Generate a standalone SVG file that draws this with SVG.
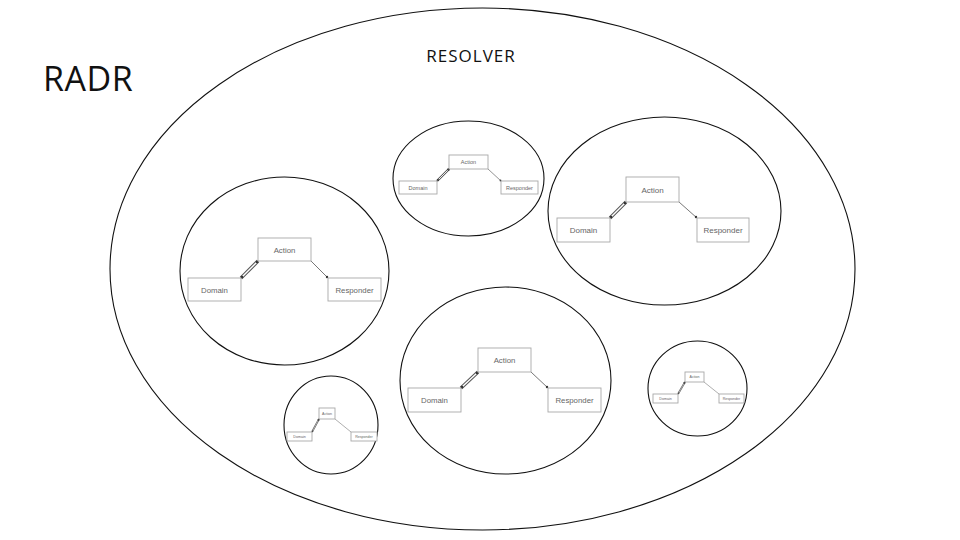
<svg xmlns="http://www.w3.org/2000/svg" width="960" height="540" viewBox="0 0 960 540">
<style>
.ring{fill:none;stroke:#111;stroke-width:1.1}
.box{fill:#fff;stroke:#a8a8a8;stroke-width:0.9}
.lbl{font-family:"Liberation Sans",Arial,sans-serif;fill:#666;text-anchor:middle}
.dbl{stroke:#555;fill:none;stroke-linecap:butt}
.dblin{stroke:#fff;fill:none}
.sgl{stroke:#777;fill:none}
.dot{fill:#333}
.title{font-family:"Open Sans","Noto Sans",sans-serif;fill:#111}
</style>
<rect width="960" height="540" fill="#fff"/>
<text class="title" x="43" y="91" font-size="34" letter-spacing="0.5">RADR</text>
<g id="resolver">
<ellipse class="ring" cx="482.5" cy="269" rx="372.5" ry="261"/>
<text class="title" x="471" y="62" font-size="17" text-anchor="middle" letter-spacing="1">RESOLVER</text>
</g>
<g id="connectors">
<path class="dbl" stroke-width="3.4" d="M241,278L258,261"/><path class="dblin" stroke-width="1.4" d="M242,277L257,262"/>
<path class="sgl" stroke-width="1" d="M311,261L328,278"/>
<circle class="dot" cx="242" cy="277" r="1.3"/><circle class="dot" cx="257" cy="262" r="1.3"/><circle class="dot" cx="327" cy="277" r="1.2"/>
<path class="dbl" stroke-width="3.4" d="M461,388L478,372"/><path class="dblin" stroke-width="1.4" d="M462,387L477,373"/>
<path class="sgl" stroke-width="1" d="M531,372L548,388"/>
<circle class="dot" cx="462" cy="387" r="1.3"/><circle class="dot" cx="477" cy="373" r="1.3"/><circle class="dot" cx="547" cy="387" r="1.2"/>
<path class="dbl" stroke-width="3.4" d="M610,218L626,202"/><path class="dblin" stroke-width="1.4" d="M611,217L625,203"/>
<path class="sgl" stroke-width="1" d="M679,202L697,218"/>
<circle class="dot" cx="611" cy="217" r="1.3"/><circle class="dot" cx="625" cy="203" r="1.3"/><circle class="dot" cx="696" cy="217" r="1.2"/>
<path class="dbl" stroke-width="2.4" d="M437,181L449,169"/><path class="dblin" stroke-width="0.9" d="M437.7,180.3L448.3,169.7"/>
<path class="sgl" stroke-width="0.8" d="M488,169L501,181"/>
<circle class="dot" cx="438" cy="180" r="1"/><circle class="dot" cx="448.5" cy="169.5" r="1.2"/><circle class="dot" cx="500.5" cy="180.5" r="0.9"/>
<path class="dbl" stroke-width="1.6" d="M678,394L685,382"/><path class="dblin" stroke-width="0.5" d="M678.5,393.2L684.5,382.8"/>
<path class="sgl" stroke-width="0.6" d="M704,382L719,394"/>
<circle class="dot" cx="684.5" cy="382.8" r="1"/><circle class="dot" cx="678.5" cy="393.3" r="0.7"/>
<path class="dbl" stroke-width="1.6" d="M312,432L319,419"/><path class="dblin" stroke-width="0.5" d="M312.5,431.2L318.5,419.8"/>
<path class="sgl" stroke-width="0.6" d="M335,419L351,432"/>
<circle class="dot" cx="318.6" cy="419.8" r="1"/><circle class="dot" cx="312.5" cy="431.2" r="0.7"/>
</g>
<g id="c1">
<ellipse class="ring" cx="284.5" cy="271" rx="104.5" ry="94"/>
<g id="c1-action"><rect class="box" x="258" y="238" width="53" height="23"/><text class="lbl" x="284.5" y="252.5" font-size="7.8">Action</text></g>
<g id="c1-domain"><rect class="box" x="188" y="278" width="53" height="23"/><text class="lbl" x="214.5" y="292.5" font-size="7.8">Domain</text></g>
<g id="c1-responder"><rect class="box" x="328" y="278" width="53" height="23"/><text class="lbl" x="354.5" y="292.5" font-size="7.8">Responder</text></g>
</g>
<g id="c2">
<ellipse class="ring" cx="468.5" cy="178.5" rx="75.5" ry="57.5"/>
<g id="c2-action"><rect class="box" x="449" y="155" width="39" height="14"/><text class="lbl" x="468.5" y="164" font-size="5.5">Action</text></g>
<g id="c2-domain"><rect class="box" x="399" y="181" width="38" height="13"/><text class="lbl" x="418" y="189.6" font-size="5.5">Domain</text></g>
<g id="c2-responder"><rect class="box" x="501" y="181" width="37" height="13"/><text class="lbl" x="519.5" y="189.6" font-size="5.5">Responder</text></g>
</g>
<g id="c3">
<ellipse class="ring" cx="664.5" cy="211" rx="116.5" ry="94"/>
<g id="c3-action"><rect class="box" x="626" y="177" width="53" height="25"/><text class="lbl" x="652.5" y="192.5" font-size="8">Action</text></g>
<g id="c3-domain"><rect class="box" x="557" y="218" width="53" height="24"/><text class="lbl" x="583.5" y="233" font-size="8">Domain</text></g>
<g id="c3-responder"><rect class="box" x="697" y="218" width="52" height="24"/><text class="lbl" x="723" y="233" font-size="8">Responder</text></g>
</g>
<g id="c4">
<ellipse class="ring" cx="505.5" cy="380.5" rx="105.5" ry="93.5"/>
<g id="c4-action"><rect class="box" x="478" y="348" width="53" height="24"/><text class="lbl" x="504.5" y="362.8" font-size="7.8">Action</text></g>
<g id="c4-domain"><rect class="box" x="408" y="388" width="53" height="24"/><text class="lbl" x="434.5" y="402.8" font-size="7.8">Domain</text></g>
<g id="c4-responder"><rect class="box" x="548" y="388" width="53" height="24"/><text class="lbl" x="574.5" y="402.8" font-size="7.8">Responder</text></g>
</g>
<g id="c5">
<ellipse class="ring" cx="697.5" cy="388.5" rx="49.5" ry="47.5"/>
<g id="c5-action"><rect class="box" x="685" y="372" width="19" height="10" stroke-width="0.6"/><text class="lbl" x="694.5" y="378.3" font-size="3.6">Action</text></g>
<g id="c5-domain"><rect class="box" x="653" y="394" width="25" height="9" stroke-width="0.6"/><text class="lbl" x="665.5" y="399.8" font-size="3.6">Domain</text></g>
<g id="c5-responder"><rect class="box" x="719" y="394" width="25" height="9" stroke-width="0.6"/><text class="lbl" x="731.5" y="399.8" font-size="3.6">Responder</text></g>
</g>
<g id="c6">
<ellipse class="ring" cx="331" cy="425" rx="47" ry="49"/>
<g id="c6-action"><rect class="box" x="319" y="408" width="16" height="11" stroke-width="0.6"/><text class="lbl" x="327" y="414.8" font-size="3.6">Action</text></g>
<g id="c6-domain"><rect class="box" x="287" y="432" width="25" height="9" stroke-width="0.6"/><text class="lbl" x="299.5" y="437.8" font-size="3.6">Domain</text></g>
<g id="c6-responder"><rect class="box" x="351" y="432" width="26" height="9" stroke-width="0.6"/><text class="lbl" x="364" y="437.8" font-size="3.6">Responder</text></g>
</g>
</svg>
